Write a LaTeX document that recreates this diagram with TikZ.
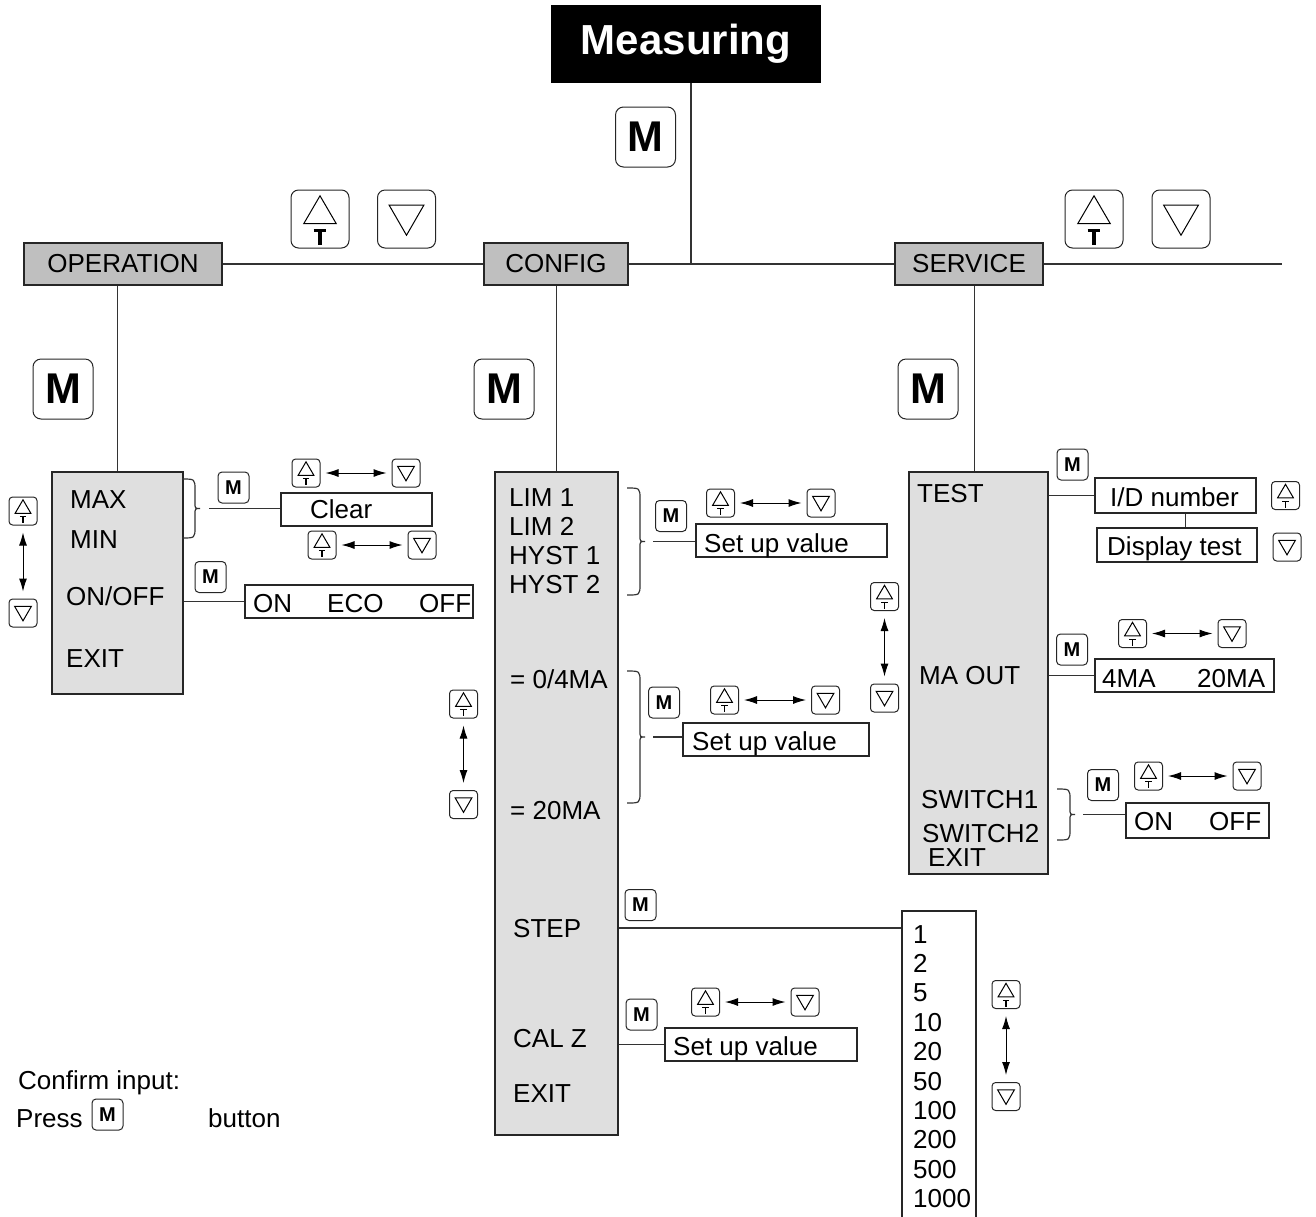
\documentclass[tikz,border=0pt]{standalone}
\usepackage{fontspec}
\setmainfont{Liberation Sans}
\usetikzlibrary{arrows.meta,calc}
\newcommand{\menufont}{\fontsize{26pt}{30pt}\selectfont}
% key with triangle up and T
\newcommand{\upkey}[5]{%
  \node[keybox, minimum size=#4pt, rounded corners=0.13*#4pt] (#1) at (#2,#3) {};
  \begin{scope}[shift={(#1.center)}, scale=#4]
    \draw[keyline] (0,-0.40) -- (0.28,0.08) -- (-0.28,0.08) -- cycle;
    \draw[line width=#5] (-0.11,0.2) -- (0.11,0.2) (0,0.2) -- (0,0.44);
  \end{scope}}
\newcommand{\dnkey}[4]{%
  \node[keybox, minimum size=#4pt, rounded corners=0.13*#4pt] (#1) at (#2,#3) {};
  \draw[keyline, shift={(#1.center)}, scale=#4] (-0.3,-0.24) -- (0.3,-0.24) -- (0,0.28) -- cycle;}
% closing brace, tip named #1
\newcommand{\menubrace}[4]{%
  \draw[conn] (#2,#3) .. controls ({#2+13},#3) .. ({#2+13},{#3+11}) -- ({#2+13},{(#3+#4)/2-6})
    .. controls ({#2+13},{(#3+#4)/2}) .. ({#2+18},{(#3+#4)/2})
    .. controls ({#2+13},{(#3+#4)/2}) .. ({#2+13},{(#3+#4)/2+6}) -- ({#2+13},{#4-11})
    .. controls ({#2+13},#4) .. (#2,#4);
  \coordinate (#1) at ({#2+18},{(#3+#4)/2});}
\tikzset{
  conn/.style={line width=1.2pt, black!80},
  keybox/.style={draw=black!85, line width=1pt, fill=white, inner sep=0pt},
  keyline/.style={line width=1pt},
  mbig/.style={keybox, minimum size=60pt, rounded corners=8pt, font=\fontsize{43pt}{43pt}\selectfont\bfseries},
  msmall/.style={keybox, minimum size=31pt, rounded corners=4pt, font=\fontsize{20pt}{20pt}\selectfont\bfseries},
  titlebox/.style={fill=black, text=white, inner sep=0pt, font=\fontsize{42pt}{42pt}\selectfont\bfseries},
  hdbox/.style={draw=black!85, fill=gray!50, line width=1.2pt, minimum height=42pt, inner sep=0pt, font=\menufont},
  subbox/.style={draw=black!85, fill=gray!25, line width=1.2pt, inner sep=0pt},
  valbox/.style={draw=black!85, fill=white, line width=1.2pt, inner sep=0pt},
  lbl/.style={anchor=base west, inner sep=0pt, font=\menufont},
  harr/.style={{Latex[length=13pt,width=8pt]}-{Latex[length=13pt,width=8pt]}, line width=1pt, shorten <=5pt, shorten >=5pt},
  varr/.style={{Latex[length=13pt,width=8pt]}-{Latex[length=13pt,width=8pt]}, line width=1pt, shorten <=7pt, shorten >=7pt},
}
\begin{document}
\begin{tikzpicture}[x=1pt,y=-1pt]
\useasboundingbox (0,0) rectangle (1316,1216);
% top level
\node[titlebox, minimum width=270pt, minimum height=78pt] (meas) at (686,44) {Measuring};
\node[mbig] (mtop) at (645.5,137) {M};
\node[hdbox, minimum width=198pt] (hop) at (123,264) {OPERATION};
\node[hdbox, minimum width=144pt] (hcf) at (556,264) {CONFIG};
\node[hdbox, minimum width=148pt] (hsv) at (969,264) {SERVICE};
\coordinate (jn) at (691,264);
\coordinate (rend) at (1282,264);
\draw[conn] (meas.south -| jn) -- (jn);
\draw[conn] (hop) -- (hcf);
\draw[conn] (hcf) -- (hsv) -- (rend);
\upkey{upA}{320}{219}{58}{3.5pt}
\dnkey{dnA}{406.5}{219}{58}
\upkey{upB}{1094}{219}{58}{3.5pt}
\dnkey{dnB}{1181}{219}{58}

% OPERATION
\node[subbox, minimum width=131pt, minimum height=222pt] (op) at (117.5,583) {};
\draw[conn] (hop.south -| op.north) -- (op.north);
\node[mbig] (mop) at (63,389) {M};
\node[lbl] (tmax) at (70,508) {MAX};
\node[lbl] (tmin) at (70,548) {MIN};
\node[lbl] (tonoff) at (66,605) {ON/OFF};
\node[lbl] (texop) at (66,667) {EXIT};
\upkey{upL}{23}{511}{28}{1.2pt}
\dnkey{dnL}{23}{613}{28}
\draw[varr] (upL) -- (dnL);
\menubrace{bra}{182}{479}{538}
\node[valbox, minimum width=151pt, minimum height=33pt] (clr) at (356.5,509.5) {};
\node[lbl] (tclr) at (310,518) {Clear};
\draw[conn] ([xshift=9pt]bra) -- (clr.west |- bra);
\node[msmall] (mclr) at (233.5,487.5) {M};
\upkey{upC}{306}{473}{28}{1.2pt}
\dnkey{dnC}{406}{473}{28}
\draw[harr] (upC) -- (dnC);
\upkey{upD}{322}{545}{28}{1.2pt}
\dnkey{dnD}{422}{545}{28}
\draw[harr] (upD) -- (dnD);
\node[msmall] (monoff) at (210.5,577) {M};
\node[valbox, minimum width=228pt, minimum height=33pt] (eco) at (359,601.5) {};
\node[lbl] at (253,612) {ON};
\node[lbl] at (327,612) {ECO};
\node[lbl] at (419,612) {OFF};
\draw[conn] (op.east |- eco.west) -- (eco.west);

% CONFIG
\node[subbox, minimum width=123pt, minimum height=663pt] (cf) at (556.5,803.5) {};
\draw[conn] (hcf.south -| cf.north) -- (cf.north);
\node[mbig] (mcf) at (504,389) {M};
\node[lbl] at (509,506) {LIM 1};
\node[lbl] at (509,535) {LIM 2};
\node[lbl] at (509,564) {HYST 1};
\node[lbl] at (509,593) {HYST 2};
\node[lbl] at (510,688) {= 0/4MA};
\node[lbl] at (510,819) {= 20MA};
\node[lbl] (tstep) at (513,937) {STEP};
\node[lbl] (tcal) at (513,1047) {CAL Z};
\node[lbl] at (513,1102) {EXIT};
\menubrace{brb}{627}{488}{595}
\node[valbox, minimum width=191pt, minimum height=33pt] (sva) at (791.5,540.5) {};
\node[lbl] at (704,552) {Set up value};
\draw[conn] ([xshift=8pt]brb) -- (sva.west |- brb);
\node[msmall] (mlim) at (671,516) {M};
\upkey{upE}{720.5}{503}{28}{1.2pt}
\dnkey{dnE}{821}{503}{28}
\draw[harr] (upE) -- (dnE);
\menubrace{brc}{627}{671}{803}
\node[valbox, minimum width=186pt, minimum height=33pt] (svb) at (776,739.5) {};
\node[lbl] at (692,750) {Set up value};
\draw[conn] ([xshift=8pt]brc) -- (svb.west |- brc);
\node[msmall] (mma) at (664,702.5) {M};
\upkey{upF}{724.5}{700}{28}{1.2pt}
\dnkey{dnF}{825.5}{700}{28}
\draw[harr] (upF) -- (dnF);
\upkey{upG}{463.5}{704}{28}{1.2pt}
\dnkey{dnG}{463.5}{804.5}{28}
\draw[varr] (upG) -- (dnG);
\upkey{upH}{884.5}{596.5}{28}{1.2pt}
\dnkey{dnH}{884.5}{698}{28}
\draw[varr] (upH) -- (dnH);
% step list
\node[msmall] (mstep) at (640.5,905) {M};
\node[valbox, minimum width=74pt, minimum height=320pt] (lst) at (939,1071) {};
\draw[conn] (cf.east |- tstep) -- (lst.west |- tstep);
\foreach \v [count=\i from 0] in {1,2,5,10,20,50,100,200,500,1000}
  \node[lbl] (st\i) at (913,{943+29.4*\i}) {\v};
\upkey{upI}{1006}{994.5}{28}{1.2pt}
\dnkey{dnI}{1006}{1096.5}{28}
\draw[varr] (upI) -- (dnI);
% cal z
\node[msmall] (mcal) at (641.5,1014.5) {M};
\node[valbox, minimum width=192pt, minimum height=33pt] (svc) at (761,1044.5) {};
\node[lbl] at (673,1055) {Set up value};
\draw[conn] (cf.east |- svc.west) -- (svc.west);
\upkey{upJ}{705.5}{1002}{28}{1.2pt}
\dnkey{dnJ}{805}{1002}{28}
\draw[harr] (upJ) -- (dnJ);

% SERVICE
\node[subbox, minimum width=139pt, minimum height=402pt] (sv) at (978.5,673) {};
\draw[conn] ([xshift=-4pt]sv.north) -- ([xshift=-4pt]sv.north |- hsv.south);
\node[mbig] (msv) at (928,389) {M};
\node[lbl] at (917,502) {TEST};
\node[lbl] at (919,684) {MA OUT};
\node[lbl] at (921,808) {SWITCH1};
\node[lbl] at (922,842) {SWITCH2};
\node[lbl] at (928,866) {EXIT};
\node[msmall] (mtest) at (1072.5,464.5) {M};
\node[valbox, minimum width=161pt, minimum height=35pt] (idb) at (1175.5,495.5) {};
\node[lbl] at (1110,506) {I/D number};
\node[valbox, minimum width=160pt, minimum height=34pt] (dtb) at (1177,545) {};
\node[lbl] at (1107,555) {Display test};
\draw[conn] (sv.east |- idb.west) -- (idb.west);
\draw[conn] ([xshift=10pt]idb.south) -- ([xshift=10pt]idb.south |- dtb.north);
\upkey{upK}{1285.5}{495.5}{28}{1.2pt}
\dnkey{dnK}{1287}{547}{28}
\node[msmall] (mout) at (1072,649.5) {M};
\node[valbox, minimum width=179pt, minimum height=33pt] (mab) at (1184.5,675.5) {};
\node[lbl] at (1102,687) {4MA};
\node[lbl] at (1197,687) {20MA};
\draw[conn] (sv.east |- mab.west) -- (mab.west);
\upkey{upL2}{1132.5}{633.5}{28}{1.2pt}
\dnkey{dnL2}{1232}{633.5}{28}
\draw[harr] (upL2) -- (dnL2);
\menubrace{brd}{1057}{789}{840}
\node[msmall] (msw) at (1103,785) {M};
\node[valbox, minimum width=143pt, minimum height=35pt] (swb) at (1197.5,820.5) {};
\node[lbl] at (1134,830) {ON};
\node[lbl] at (1209,830) {OFF};
\draw[conn] ([xshift=8pt]brd) -- (swb.west |- brd);
\upkey{upM}{1148.5}{776}{28}{1.2pt}
\dnkey{dnM}{1247}{776}{28}
\draw[harr] (upM) -- (dnM);

% note
\node[lbl] (tconf) at (18,1089) {Confirm input:};
\node[lbl] (tpress) at (16,1127) {Press};
\node[msmall] (mconf) at (107.5,1114.5) {M};
\node[lbl] (tbtn) at (208,1127) {button};
\end{tikzpicture}
\end{document}
